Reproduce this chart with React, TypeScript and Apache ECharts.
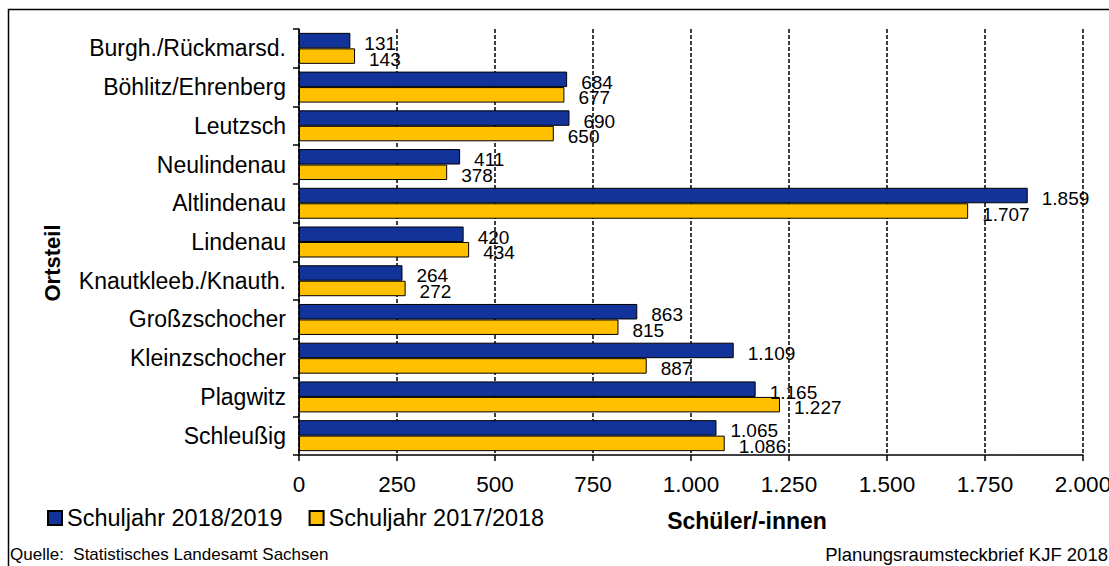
import React, { useEffect, useRef } from "react";
import * as echarts from "echarts";

const categories = [
  "Burgh./Rückmarsd.",
  "Böhlitz/Ehrenberg",
  "Leutzsch",
  "Neulindenau",
  "Altlindenau",
  "Lindenau",
  "Knautkleeb./Knauth.",
  "Großzschocher",
  "Kleinzschocher",
  "Plagwitz",
  "Schleußig",
];
const series2018 = [131, 684, 690, 411, 1859, 420, 264, 863, 1109, 1165, 1065];
const series2017 = [143, 677, 650, 378, 1707, 434, 272, 815, 887, 1227, 1086];
const seriesNames = ["Schuljahr 2018/2019", "Schuljahr 2017/2018"];
const xTicks = { min: 0, max: 2000, interval: 250 };

const FONT = "'Liberation Sans', Arial, sans-serif";
const fmt = (v: number) => {
  const s = Math.round(v).toString();
  return s.replace(/\B(?=(\d{3})+(?!\d))/g, ".");
};

export default function App() {
  const ref = useRef<HTMLDivElement>(null);
  useEffect(() => {
    document.body.style.margin = "0";
    const chart = echarts.init(ref.current!, null, { renderer: "svg" });
    const labelCfg = {
      show: true,
      position: "right",
      distance: 14,
      offset: [0, 3],
      color: "#000",
      fontFamily: FONT,
      fontSize: 19,
      formatter: (p: any) => fmt(p.value),
    };
    chart.setOption({
      animation: false,
      backgroundColor: "#fff",
      textStyle: { fontFamily: FONT },
      grid: {
        left: 299,
        right: 26,
        top: 29,
        bottom: 111,
        containLabel: false,
        outerBoundsMode: "none",
      },
      legend: {
        left: 47,
        top: 506,
        padding: 0,
        itemWidth: 14,
        itemHeight: 14,
        itemGap: 26,
        icon: "rect",
        textStyle: { fontFamily: FONT, fontSize: 23.5, color: "#000" },
        data: seriesNames,
      },
      xAxis: {
        type: "value",
        min: xTicks.min,
        max: xTicks.max,
        interval: xTicks.interval,
        axisLine: { show: true, lineStyle: { color: "#000", width: 1.5 } },
        axisTick: { show: true, length: 6, lineStyle: { color: "#000", width: 1.5 } },
        axisLabel: {
          fontFamily: FONT,
          fontSize: 22.5,
          color: "#000",
          margin: 18,
          hideOverlap: false,
          formatter: (v: number) => fmt(v),
        },
        splitLine: {
          show: true,
          lineStyle: { color: "#000", width: 1.5, type: [4, 2] },
        },
      },
      yAxis: {
        type: "category",
        data: categories,
        inverse: true,
        axisLine: { show: true, lineStyle: { color: "#000", width: 1.5 } },
        axisTick: { show: true, length: 6, alignWithLabel: false, lineStyle: { color: "#000", width: 1.5 } },
        axisLabel: { fontFamily: FONT, fontSize: 23, color: "#000", margin: 13 },
        splitLine: { show: false },
      },
      series: [
        {
          name: seriesNames[0],
          type: "bar",
          data: series2018,
          barGap: "0%",
          barCategoryGap: "20%",
          itemStyle: { color: "#12339A", borderColor: "#000", borderWidth: 1 },
          label: labelCfg,
        },
        {
          name: seriesNames[1],
          type: "bar",
          data: series2017,
          barGap: "0%",
          barCategoryGap: "20%",
          itemStyle: { color: "#FFC000", borderColor: "#000", borderWidth: 1 },
          label: labelCfg,
        },
      ],
      graphic: [
        {
          type: "rect",
          shape: { x: 8.5, y: 9.5, width: 1300, height: 700 },
          style: { fill: "none", stroke: "#000", lineWidth: 1.5 },
          silent: true,
        },
        {
          type: "text",
          x: 52,
          y: 263,
          rotation: Math.PI / 2,
          style: {
            text: "Ortsteil",
            fontFamily: FONT,
            fontSize: 22,
            fontWeight: "bold",
            fill: "#000",
            align: "center",
            verticalAlign: "middle",
          },
        },
        {
          type: "text",
          x: 747,
          y: 521,
          style: {
            text: "Schüler/-innen",
            fontFamily: FONT,
            fontSize: 23,
            fontWeight: "bold",
            fill: "#000",
            align: "center",
            verticalAlign: "middle",
          },
        },
        {
          type: "text",
          x: 10,
          y: 554,
          style: {
            text: "Quelle:  Statistisches Landesamt Sachsen",
            fontFamily: FONT,
            fontSize: 17,
            fill: "#000",
            align: "left",
            verticalAlign: "middle",
          },
        },
        {
          type: "text",
          x: 1108,
          y: 554,
          style: {
            text: "Planungsraumsteckbrief KJF 2018",
            fontFamily: FONT,
            fontSize: 18.5,
            fill: "#000",
            align: "right",
            verticalAlign: "middle",
          },
        },
      ],
    });
    return () => chart.dispose();
  }, []);
  return <div ref={ref} style={{ width: 1109, height: 566 }} />;
}
